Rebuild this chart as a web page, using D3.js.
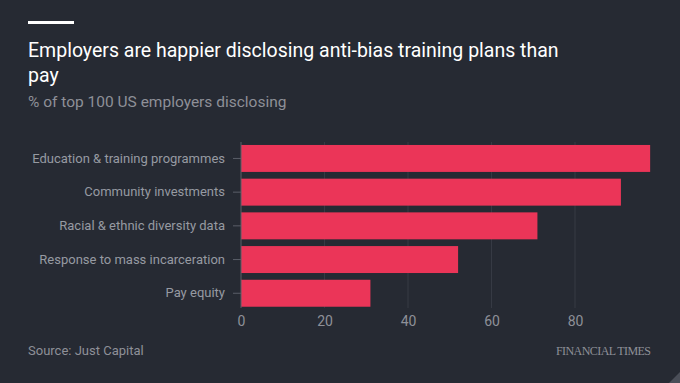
<!DOCTYPE html>
<html><head><meta charset="utf-8">
<script src="https://cdn.jsdelivr.net/npm/d3@7"></script>
<style>
html,body{margin:0;padding:0;background:#262a33;}
svg{display:block;}
</style></head><body>
<svg id="c" width="680" height="383"></svg>
<script>
const categories = ["Education & training programmes","Community investments","Racial & ethnic diversity data","Response to mass incarceration","Pay equity"];
const values = [98, 91, 71, 52, 31];
const xTicks = [0, 20, 40, 60, 80];
const titleLines = ["Employers are happier disclosing anti-bias training plans than", "pay"];
const subtitle = "% of top 100 US employers disclosing";
const source = "Source: Just Capital";

const FONT = "Roboto, 'Open Sans', sans-serif";
const svg = d3.select("#c");
svg.append("rect").attr("width",680).attr("height",383).attr("fill","#262a33");
svg.append("rect").attr("x",28).attr("y",21).attr("width",46).attr("height",3).attr("fill","#ffffff");

const t = svg.append("text").attr("fill","#ffffff")
  .style("font-family",FONT).style("font-size","19.5px");
t.selectAll("tspan").data(titleLines).join("tspan")
  .attr("x",28).attr("y",(d,i)=>57+i*25).text(d=>d);
svg.append("text").attr("x",28).attr("y",107).attr("fill","#8e9098")
  .style("font-family",FONT).style("font-size","15.5px").text(subtitle);

const x = d3.scaleLinear().domain([0,100]).range([241, 658.5]);
const y = d3.scaleBand().domain(categories).range([141.6, 310.1]).paddingInner(0.2).paddingOuter(0.1);

// gridlines
svg.append("g").selectAll("line").data(xTicks.slice(1)).join("line")
  .attr("x1",d=>x(d)).attr("x2",d=>x(d)).attr("y1",142).attr("y2",308)
  .attr("stroke","#363a44").attr("stroke-width",1);

svg.append("g").selectAll("rect").data(values).join("rect")
  .attr("x",x(0)).attr("y",(d,i)=>y(categories[i]))
  .attr("width",d=>x(d)-x(0)).attr("height",y.bandwidth())
  .attr("fill","#eb3558");

const xa = svg.append("g").attr("transform","translate(0,310)")
  .call(d3.axisBottom(x).tickValues(xTicks).tickSize(0).tickPadding(6));
xa.select(".domain").remove();
xa.selectAll("text").attr("fill","#8e9098").style("font-family",FONT).style("font-size","14px");

const ya = svg.append("g").attr("transform","translate(241,0)")
  .call(d3.axisLeft(y).tickSize(8).tickPadding(8));
ya.select(".domain").attr("stroke","#5a5e68").attr("d","M0,142V308");
ya.selectAll(".tick line").attr("stroke","#5a5e68");
ya.selectAll("text").attr("fill","#969880").attr("fill","#969aa2").style("font-family",FONT).style("font-size","13px");

svg.append("text").attr("x",28).attr("y",355).attr("fill","#8e9098")
  .style("font-family",FONT).style("font-size","13px").text(source);
svg.append("text").attr("x",651).attr("y",355).attr("text-anchor","end").attr("fill","#8e9098")
  .style("font-family","'Liberation Serif', serif").style("font-size","12px").attr("textLength",95)
  .text("FINANCIAL TIMES");
svg.append("path").attr("d","M680,372L680,383L669,383Z").attr("fill","#4a4e58");
</script></body></html>
